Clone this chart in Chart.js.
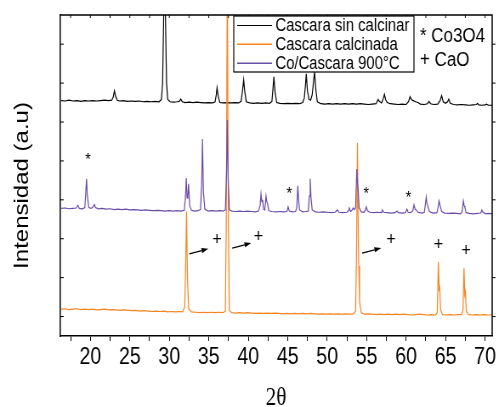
<!DOCTYPE html>
<html>
<head>
<meta charset="utf-8">
<script src="https://cdn.jsdelivr.net/npm/chart.js@4.4.1/dist/chart.umd.min.js"></script>
<style>
  html, body { margin: 0; padding: 0; background: #fff; overflow: hidden; }
  /* the figure is drawn wide and squeezed horizontally */
  #wrap { width: 587px; height: 407px; transform: scaleX(0.85); transform-origin: 0 0; }
</style>
</head>
<body>
<div id="wrap"><canvas id="xrd"></canvas></div>
<script>
// diffractograms: [2theta, intensity (a.u., stacked)]
const sinCalcinar = [
  [16.3, 6.05], [16.8, 6.04], [17.3, 6.06], [17.8, 6.04], [18.3, 6.05], [18.8, 6.03], [19.3, 6.05],
  [19.8, 6.04], [20.3, 6.05], [20.8, 6.04], [21.3, 6.05], [21.8, 6.06], [22.3, 6.05], [22.7, 6.06],
  [22.9, 6.14], [23.05, 6.30], [23.2, 6.16], [23.4, 6.06], [23.7, 6.04], [24.2, 6.05], [24.7, 6.03],
  [25.2, 6.04], [25.7, 6.03], [26.2, 6.04], [26.7, 6.02], [27.2, 6.03], [27.7, 6.02], [28.2, 6.03],
  [28.7, 6.02], [29.0, 6.08], [29.15, 6.5], [29.27, 8.0], [29.4, 9.5], [29.53, 8.0], [29.65, 6.5],
  [29.8, 6.08], [30.1, 6.02],
  [30.5, 6.01], [31.0, 6.02], [31.25, 6.03], [31.45, 6.09], [31.65, 6.02], [32.0, 6.0], [32.5, 6.01],
  [33.0, 6.0], [33.5, 6.01], [34.0, 6.0], [34.5, 5.99], [35.0, 6.0], [35.5, 5.99], [35.8, 6.02],
  [35.95, 6.2], [36.05, 6.38], [36.2, 6.15], [36.4, 6.0], [36.8, 5.99], [37.3, 6.0], [37.8, 5.99],
  [38.3, 6.0], [38.8, 5.99], [39.1, 6.03], [39.3, 6.35], [39.42, 6.58], [39.55, 6.3], [39.75, 6.02],
  [40.2, 5.99], [40.7, 5.98], [41.2, 5.99], [41.7, 5.98], [42.2, 5.99], [42.7, 5.98], [43.0, 6.03],
  [43.15, 6.4], [43.25, 6.66], [43.38, 6.3], [43.6, 6.0], [44.0, 5.98], [44.5, 5.97], [45.0, 5.98],
  [45.5, 5.97], [46.0, 5.98], [46.5, 5.97], [46.9, 6.0], [47.1, 6.12], [47.25, 6.45], [47.35, 6.74],
  [47.5, 6.3], [47.7, 6.08], [47.9, 6.06], [48.1, 6.2], [48.3, 6.6], [48.4, 6.79], [48.55, 6.35],
  [48.75, 6.02], [49.2, 5.97], [49.7, 5.96], [50.2, 5.97], [50.7, 5.96], [51.2, 5.97], [51.7, 5.96],
  [52.2, 5.97], [52.7, 5.96], [53.2, 5.97], [53.7, 5.96], [54.2, 5.97], [54.7, 5.96], [55.2, 5.95],
  [55.7, 5.96], [56.2, 5.97], [56.45, 6.08], [56.6, 6.03], [56.9, 5.99], [57.1, 6.1], [57.25, 6.21],
  [57.4, 6.08], [57.6, 6.0], [58.0, 5.97], [58.5, 5.96], [59.0, 5.95], [59.5, 5.96], [60.0, 5.95],
  [60.3, 6.02], [60.5, 6.15], [60.7, 6.07], [60.9, 6.05], [61.2, 6.02], [61.5, 6.0], [61.8, 5.96],
  [62.3, 5.95], [62.7, 5.97], [62.9, 6.03], [63.1, 5.97], [63.5, 5.95], [64.0, 5.96], [64.3, 6.05],
  [64.5, 6.18], [64.7, 6.02], [65.0, 5.98], [65.25, 6.02], [65.4, 6.09], [65.6, 5.98], [66.0, 5.95],
  [66.5, 5.94], [67.0, 5.95], [67.5, 5.94], [68.0, 5.93], [68.5, 5.94], [68.9, 5.95], [69.05, 5.98],
  [69.2, 5.94], [69.6, 5.93], [70.0, 5.94], [70.2, 5.96], [70.4, 5.93], [70.9, 5.93]
];

const calcinada = [
  [16.3, 0.69], [16.8, 0.70], [17.3, 0.68], [17.8, 0.69], [18.3, 0.70], [18.8, 0.68], [19.3, 0.69],
  [19.8, 0.68], [20.3, 0.69], [20.8, 0.67], [21.3, 0.68], [21.8, 0.69], [22.3, 0.67], [22.8, 0.68],
  [23.3, 0.67], [23.8, 0.66], [24.3, 0.67], [24.8, 0.66], [25.3, 0.65], [25.8, 0.66], [26.3, 0.64],
  [26.8, 0.65], [27.3, 0.64], [27.8, 0.63], [28.3, 0.64], [28.8, 0.63], [29.3, 0.64], [29.8, 0.62],
  [30.3, 0.63], [30.8, 0.62], [31.3, 0.63], [31.7, 0.62], [31.95, 0.75], [32.08, 1.9], [32.18, 3.2],
  [32.3, 1.5], [32.45, 0.7], [32.8, 0.62], [33.3, 0.61], [33.8, 0.60], [34.3, 0.61], [34.8, 0.60],
  [35.3, 0.61], [35.8, 0.60], [36.3, 0.61], [36.8, 0.60], [37.1, 0.64], [37.22, 3.0], [37.35, 9.5],
  [37.48, 3.0], [37.6, 0.66], [37.9, 0.60], [38.4, 0.59], [38.9, 0.60], [39.4, 0.59], [39.9, 0.60],
  [40.4, 0.59], [40.9, 0.58], [41.4, 0.59], [41.9, 0.58], [42.4, 0.59], [42.9, 0.58], [43.4, 0.59],
  [43.9, 0.58], [44.4, 0.57], [44.9, 0.58], [45.4, 0.57], [45.9, 0.58], [46.4, 0.57], [46.9, 0.58],
  [47.4, 0.57], [47.9, 0.58], [48.4, 0.57], [48.9, 0.56], [49.4, 0.57], [49.9, 0.56], [50.4, 0.57],
  [50.9, 0.56], [51.4, 0.57], [51.9, 0.56], [52.4, 0.57], [52.9, 0.56], [53.3, 0.57], [53.6, 0.64],
  [53.72, 2.2], [53.84, 4.96], [53.94, 2.6], [54.0, 1.8], [54.1, 0.9], [54.3, 0.6], [54.7, 0.56],
  [55.2, 0.57], [55.7, 0.56], [56.2, 0.55], [56.7, 0.56], [57.2, 0.55], [57.7, 0.56], [58.2, 0.55],
  [58.7, 0.56], [59.2, 0.55], [59.7, 0.56], [60.2, 0.55], [60.7, 0.54], [61.2, 0.55], [61.7, 0.56],
  [62.2, 0.55], [62.7, 0.54], [63.2, 0.55], [63.7, 0.54], [63.95, 0.6], [64.08, 1.91], [64.18, 1.2],
  [64.26, 1.25], [64.35, 0.7], [64.6, 0.55], [65.1, 0.54], [65.6, 0.55], [66.1, 0.54], [66.6, 0.55],
  [67.0, 0.55], [67.2, 0.65], [67.33, 1.74], [67.43, 1.05], [67.52, 1.14], [67.62, 0.65], [67.9, 0.55],
  [68.4, 0.54], [68.9, 0.55], [69.4, 0.54], [69.9, 0.55], [70.4, 0.54], [70.9, 0.54]
];

const coCascara = [
  [16.3, 3.28], [16.8, 3.29], [17.3, 3.27], [17.8, 3.28], [18.2, 3.29], [18.4, 3.36], [18.6, 3.28],
  [19.0, 3.27], [19.3, 3.3], [19.42, 3.7], [19.52, 4.04], [19.62, 3.6], [19.8, 3.3], [20.1, 3.28],
  [20.35, 3.32], [20.5, 3.38], [20.65, 3.3], [21.0, 3.27], [21.5, 3.28], [22.0, 3.26], [22.5, 3.27],
  [23.0, 3.25], [23.5, 3.26], [24.0, 3.25], [24.5, 3.26], [25.0, 3.24], [25.5, 3.25], [26.0, 3.24],
  [26.5, 3.23], [27.0, 3.24], [27.5, 3.23], [28.0, 3.22], [28.5, 3.23], [29.0, 3.22], [29.5, 3.21],
  [30.0, 3.22], [30.5, 3.21], [31.0, 3.22], [31.5, 3.21], [31.9, 3.23], [32.05, 3.6], [32.15, 4.06],
  [32.25, 3.55], [32.35, 3.6], [32.45, 3.91], [32.58, 3.35], [32.8, 3.23], [33.2, 3.21], [33.6, 3.22],
  [33.95, 3.25], [34.1, 3.9], [34.2, 5.06], [34.32, 3.7], [34.5, 3.26], [34.9, 3.21], [35.4, 3.22],
  [35.9, 3.21], [36.4, 3.22], [36.8, 3.21], [37.1, 3.24], [37.25, 4.2], [37.35, 5.55], [37.45, 4.1],
  [37.6, 3.25], [37.9, 3.21], [38.4, 3.2], [38.9, 3.21], [39.4, 3.2], [39.9, 3.21], [40.4, 3.2],
  [40.9, 3.19], [41.3, 3.21], [41.5, 3.35], [41.62, 3.65], [41.72, 3.45], [41.82, 3.5], [41.95, 3.25],
  [42.1, 3.24], [42.25, 3.6], [42.35, 3.45], [42.45, 3.4], [42.6, 3.22], [43.0, 3.2], [43.5, 3.19],
  [44.0, 3.2], [44.5, 3.19], [44.9, 3.2], [45.05, 3.32], [45.2, 3.21], [45.6, 3.19], [46.0, 3.2],
  [46.15, 3.3], [46.28, 3.86], [46.38, 3.5], [46.5, 3.24], [46.9, 3.19], [47.3, 3.2], [47.6, 3.21],
  [47.75, 3.6], [47.85, 4.04], [47.95, 3.55], [48.1, 3.24], [48.5, 3.19], [49.0, 3.18], [49.5, 3.19],
  [50.0, 3.18], [50.5, 3.17], [51.0, 3.18], [51.3, 3.24], [51.5, 3.18], [52.0, 3.17], [52.5, 3.18],
  [52.7, 3.22], [52.8, 3.29], [52.95, 3.2], [53.1, 3.22], [53.3, 3.29], [53.45, 3.25], [53.6, 3.3],
  [53.75, 4.29], [53.85, 3.9], [53.92, 3.8], [54.05, 3.3], [54.3, 3.19], [54.7, 3.18], [54.85, 3.25],
  [54.95, 3.32], [55.1, 3.22], [55.4, 3.18], [55.9, 3.17], [56.4, 3.18], [56.9, 3.17], [57.0, 3.24],
  [57.15, 3.18], [57.6, 3.17], [58.1, 3.16], [58.6, 3.17], [58.85, 3.21], [59.0, 3.17], [59.5, 3.16],
  [59.9, 3.17], [60.1, 3.26], [60.25, 3.18], [60.6, 3.17], [60.85, 3.22], [61.0, 3.37], [61.15, 3.25],
  [61.3, 3.24], [61.5, 3.18], [62.0, 3.16], [62.3, 3.18], [62.45, 3.4], [62.55, 3.57], [62.65, 3.4],
  [62.8, 3.3], [62.95, 3.2], [63.4, 3.16], [63.9, 3.17], [64.05, 3.3], [64.17, 3.47], [64.27, 3.38],
  [64.35, 3.32], [64.5, 3.2], [64.9, 3.16], [65.4, 3.15], [65.9, 3.16], [66.4, 3.15], [66.9, 3.14],
  [67.1, 3.2], [67.25, 3.47], [67.35, 3.35], [67.45, 3.3], [67.6, 3.17], [68.0, 3.15], [68.5, 3.14],
  [69.0, 3.15], [69.45, 3.16], [69.6, 3.24], [69.75, 3.18], [70.1, 3.14], [70.5, 3.15], [70.9, 3.14]
];

const seriesNames = ['Cascara sin calcinar', 'Cascara calcinada', 'Co/Cascara 900°C'];
const seriesColors = ['#000000', '#f7841e', '#6a4ca8'];

const xTicks = [17.5, 20, 22.5, 25, 27.5, 30, 32.5, 35, 37.5, 40, 42.5, 45, 47.5, 50, 52.5, 55, 57.5, 60, 62.5, 65, 67.5, 70];
const xLabels = [20, 25, 30, 35, 40, 45, 50, 55, 60, 65, 70];
const yTicks = [0.5, 1.5, 2.5, 3.5, 4.5, 5.5, 6.5, 7.5];

// phase markers [2theta, intensity]
const co3o4Marks = [[19.7, 4.63], [45.2, 3.75], [54.95, 3.75], [60.3, 3.65]];
const caoMarks = [[36.05, 2.53], [41.3, 2.6], [58.1, 2.53], [64.1, 2.4], [67.6, 2.24]];
const arrows = [[32.53, 2.11, 34.94, 2.24], [37.97, 2.26, 40.38, 2.39], [54.43, 2.13, 56.84, 2.26]];

const SANS = "'Liberation Sans', Arial, sans-serif";

function glyphAt(ctx, text, x, y) {
  // centre the glyph's ink box on (x, y)
  const m = ctx.measureText(text);
  ctx.fillText(text, x, y + (m.actualBoundingBoxAscent - m.actualBoundingBoxDescent) / 2);
}

const framePlugin = {
  id: 'frame',
  afterDraw(chart) {
    const { ctx, chartArea: a, scales } = chart;
    ctx.save();
    ctx.strokeStyle = '#000';
    ctx.lineWidth = 1.5;
    ctx.beginPath();
    ctx.moveTo(a.left, a.top);
    ctx.lineTo(a.right, a.top);
    ctx.lineTo(a.right, a.bottom);
    ctx.stroke();

    ctx.lineWidth = 1;
    ctx.beginPath();
    yTicks.forEach(v => {
      const p = scales.y.getPixelForValue(v);
      ctx.moveTo(a.left, p); ctx.lineTo(a.left + 4, p);
      ctx.moveTo(a.right, p); ctx.lineTo(a.right + 4, p);
    });
    xTicks.forEach(v => {
      const p = scales.x.getPixelForValue(v);
      ctx.moveTo(p, a.top); ctx.lineTo(p, a.top + 3);
    });
    ctx.stroke();
    ctx.restore();
  }
};

const markerPlugin = {
  id: 'markers',
  afterDatasetsDraw(chart) {
    const { ctx, scales: { x, y } } = chart;
    ctx.save();
    ctx.fillStyle = '#000';
    ctx.strokeStyle = '#000';
    ctx.textAlign = 'center';
    ctx.textBaseline = 'alphabetic';
    ctx.font = '17px ' + SANS;
    co3o4Marks.forEach(([t, i]) => glyphAt(ctx, '*', x.getPixelForValue(t), y.getPixelForValue(i)));
    ctx.font = '19px ' + SANS;
    caoMarks.forEach(([t, i]) => glyphAt(ctx, '+', x.getPixelForValue(t), y.getPixelForValue(i)));

    ctx.lineWidth = 1.3;
    arrows.forEach(([t1, i1, t2, i2]) => {
      const x1 = x.getPixelForValue(t1), y1 = y.getPixelForValue(i1);
      const x2 = x.getPixelForValue(t2), y2 = y.getPixelForValue(i2);
      const ang = Math.atan2(y2 - y1, x2 - x1);
      const len = 8, half = 2.6;
      const bx = x2 - len * Math.cos(ang), by = y2 - len * Math.sin(ang);
      ctx.beginPath();
      ctx.moveTo(x1, y1);
      ctx.lineTo(bx, by);
      ctx.stroke();
      ctx.beginPath();
      ctx.moveTo(x2, y2);
      ctx.lineTo(bx + half * Math.sin(ang), by - half * Math.cos(ang));
      ctx.lineTo(bx - half * Math.sin(ang), by + half * Math.cos(ang));
      ctx.closePath();
      ctx.fill();
    });
    ctx.restore();
  }
};

const legendPlugin = {
  id: 'boxLegend',
  afterDraw(chart) {
    const { ctx } = chart;
    const box = { left: 275, top: 16, right: 487, bottom: 72 };
    const rows = [25.5, 44.2, 63.2];
    ctx.save();
    ctx.fillStyle = '#fff';
    ctx.fillRect(box.left, box.top, box.right - box.left, box.bottom - box.top);
    ctx.strokeStyle = '#000';
    ctx.lineWidth = 1.2;
    ctx.strokeRect(box.left, box.top, box.right - box.left, box.bottom - box.top);

    ctx.font = '17.5px ' + SANS;
    ctx.textAlign = 'left';
    ctx.textBaseline = 'middle';
    seriesNames.forEach((name, i) => {
      ctx.strokeStyle = seriesColors[i];
      ctx.lineWidth = i === 0 ? 1.2 : 1.5;
      ctx.beginPath();
      ctx.moveTo(279, rows[i]);
      ctx.lineTo(320, rows[i]);
      ctx.stroke();
      ctx.fillStyle = '#000';
      ctx.fillText(name, 324, rows[i] + 1);
    });

    // phase key
    ctx.font = '20px ' + SANS;
    ctx.fillText('* Co3O4', 494, 36);
    ctx.fillText('+ CaO', 494, 60);
    ctx.restore();
  }
};

const titlePlugin = {
  id: 'axisTitles',
  afterDraw(chart) {
    const { ctx } = chart;
    ctx.save();
    ctx.fillStyle = '#000';
    ctx.textAlign = 'center';
    ctx.textBaseline = 'middle';
    ctx.font = "25px 'Liberation Serif', 'Times New Roman', serif";
    ctx.fillText('2\u03b8', 324.7, 398);
    ctx.translate(26, 185.5);
    ctx.rotate(-Math.PI / 2);
    ctx.font = '24px ' + SANS;
    ctx.fillText('Intensidad (a.u)', 0, 0);
    ctx.restore();
  }
};

const datasets = [sinCalcinar, calcinada, coCascara].map((rows, i) => ({
  label: seriesNames[i],
  data: rows.map(([t, v]) => ({ x: t, y: v })),
  borderColor: seriesColors[i],
  borderWidth: 1.2,
  pointRadius: 0,
  tension: 0,
  fill: false,
  order: 3 - i
}));

new Chart(document.getElementById('xrd'), {
  type: 'line',
  data: { datasets },
  options: {
    responsive: true,
    maintainAspectRatio: false,
    animation: false,
    devicePixelRatio: 1,
    layout: { padding: { top: 15, right: 8, left: 0, bottom: 0 } },
    plugins: { legend: { display: false }, tooltip: { enabled: false } },
    scales: {
      x: {
        type: 'linear',
        min: 16.2,
        max: 70.9,
        afterBuildTicks: s => { s.ticks = xTicks.map(v => ({ value: v })); },
        afterFit: s => { s.height = 71; },
        ticks: {
          autoSkip: false,
          maxRotation: 0,
          padding: 3,
          color: '#000',
          font: { family: SANS, size: 23 },
          callback: v => (xLabels.includes(v) ? String(v) : '')
        },
        grid: { drawOnChartArea: false, tickLength: 5, color: '#000', lineWidth: 1 },
        border: { color: '#000', width: 1.5 }
      },
      y: {
        min: 0,
        max: 8.25,
        afterFit: s => { s.width = 71; },
        ticks: { display: false },
        grid: { drawOnChartArea: false, drawTicks: false },
        border: { color: '#000', width: 1.5 }
      }
    }
  },
  plugins: [framePlugin, markerPlugin, legendPlugin, titlePlugin]
});
</script>
</body>
</html>
